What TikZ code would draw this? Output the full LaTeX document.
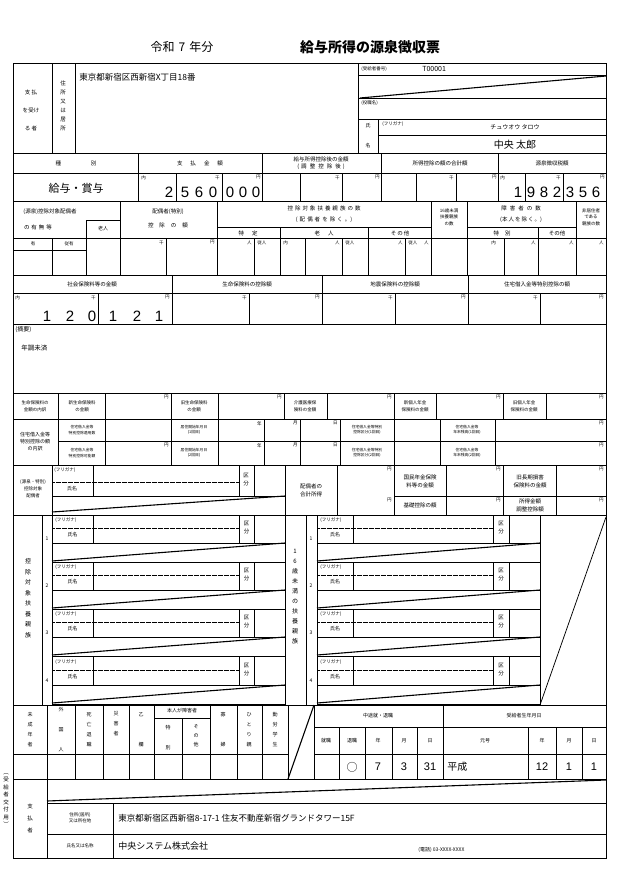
\documentclass[tikz,border=0pt]{standalone}
\usepackage{fontspec}
\setmainfont{Noto Sans CJK JP}
\newfontfamily\digits{Liberation Sans}
\begin{document}
\begin{tikzpicture}[x=1pt,y=-1pt,line width=0.75pt]
\newcommand\HL[3]{\draw ({#1},{#3}) -- ({#2},{#3});}
\newcommand\VL[3]{\draw ({#1},{#2}) -- ({#1},{#3});}
\newcommand\TX[5][]{\node[inner sep=0pt,font=\fontsize{#4}{#4}\selectfont,#1] at ({#2},{#3}) {#5};}
\newcommand\VT[6][]{\node[inner sep=0pt,align=center,font=\fontsize{#4}{#5}\selectfont,#1] at ({#2},{#3}) {#6};}
\newcommand\DG[4][13]{\node[inner sep=0pt,font=\digits\fontsize{#1}{#1}\selectfont] at ({#2},{#3}) {#4};}
\tikzset{dots/.style={line width=1pt,dash pattern=on 0.6pt off 0.6pt}}
\fill[white] (0,0) rectangle (619,870);
\useasboundingbox (0,0) rectangle (619,870);
% title
\TX{182}{47}{12}{令和\hspace{4pt}7\hspace{4pt}年分}
\TX{370}{47}{14}{\bfseries 給与所得の源泉徴収票}
% outer border
\draw (13,63) rectangle (606,858);
% ---------- top block
\VL{52}{63}{153}\VL{75}{63}{153}\VL{358}{63}{153}
\HL{358}{606}{75}\HL{358}{606}{98}\HL{358}{606}{119}\HL{378}{606}{135}
\draw[line width=1.1pt] (360,98) -- (606,76);
\VL{378}{119}{153}
\HL{13}{606}{153}
\VT{31}{110}{5.5}{18}{支 払\\を受け\\る 者}
\VT{63}{106}{5.5}{9}{住\\所\\又\\は\\居\\所}
\TX[anchor=north west]{79}{73}{8.5}{東京都新宿区西新宿X丁目18番}
\TX[anchor=west]{361}{69}{4.5}{(受給者番号)}
\TX[anchor=west]{422}{69}{7}{T00001}
\TX[anchor=west]{361}{103}{4.5}{(役職名)}
\TX{368}{126}{5}{氏}\TX{368}{146}{5}{名}
\TX[anchor=west]{382}{124}{4.5}{(フリガナ)}
\TX{515}{127}{6}{チュウオウ タロウ}
\TX{515}{145}{10}{中央 太郎}
% ---------- 種別 row
\VL{138}{153}{201}\VL{262}{153}{201}\VL{381}{153}{201}\VL{498}{153}{201}
\HL{13}{606}{173}\HL{13}{606}{201}
\VL{176}{173}{201}\VL{222}{173}{201}\VL{300}{173}{201}\VL{342}{173}{201}
\VL{416}{173}{201}\VL{456}{173}{201}\VL{525}{173}{201}\VL{563}{173}{201}
\TX{76}{163}{5.5}{種\hspace{30pt}別}
\TX{200}{163}{5.5}{支\hspace{8pt}払\hspace{8pt}金\hspace{8pt}額}
\VT{321}{163}{5.5}{6.5}{給与所得控除後の金額\\(\hspace{2pt}調\hspace{3pt}整\hspace{3pt}控\hspace{3pt}除\hspace{3pt}後\hspace{2pt})}
\TX{440}{163}{5.5}{所得控除の額の合計額}
\TX{552}{163}{5.5}{源泉徴収税額}
\TX{76}{188}{11}{給与・賞与}
\foreach \ex in {262,381,498,606}{
  \TX[anchor=north east]{\ex-1}{175}{4.5}{円}}
\TX[anchor=north west]{141}{175}{4.5}{内}
\TX[anchor=north west]{500}{175}{4.5}{内}
\foreach \x in {220,340,454,561}{\TX[anchor=north east]{\x}{175}{4.5}{千}}
\DG[15]{169}{192}{2}\DG[15]{185}{192}{5}\DG[15]{199}{192}{6}\DG[15]{213}{192}{0}
\DG[15]{230}{192}{0}\DG[15]{243}{192}{0}\DG[15]{256}{192}{0}
\DG[15]{518}{192}{1}\DG[15]{531}{192}{9}\DG[15]{544}{192}{8}\DG[15]{557}{192}{2}
\DG[15]{570}{192}{3}\DG[15]{583}{192}{5}\DG[15]{596}{192}{6}
% ---------- 配偶者 / 扶養 header
\VL{120}{201}{275}\VL{217}{201}{275}\VL{431}{201}{275}\VL{467}{201}{275}\VL{576}{201}{275}
\VL{86}{220}{275}\HL{86}{120}{220}
\HL{217}{431}{227}\HL{467}{576}{227}
\VL{280}{227}{275}\VL{368}{227}{275}\VL{538}{227}{275}
\HL{13}{606}{238}\HL{13}{86}{250}
\VL{52}{238}{275}\VL{166}{238}{275}\VL{254}{238}{275}\VL{305}{238}{275}\VL{342}{238}{275}
\VL{405}{238}{275}\VL{504}{238}{275}
\TX{50}{212}{5.5}{(源泉)控除対象配偶者}
\TX{38}{227}{5.5}{の\hspace{2pt}有\hspace{2pt}無\hspace{2pt}等}
\TX{103}{229}{5}{老人}
\TX{168}{212}{5.5}{配偶者(特別)}
\TX{168}{225}{5.5}{控\hspace{6pt}除\hspace{6pt}の\hspace{6pt}額}
\TX{324}{208}{5.5}{控\hspace{2pt}除\hspace{2pt}対\hspace{2pt}象\hspace{2pt}扶\hspace{2pt}養\hspace{2pt}親\hspace{2pt}族\hspace{2pt}の\hspace{2pt}数}
\TX{324}{220}{5.5}{(\hspace{2pt}配\hspace{2pt}偶\hspace{2pt}者\hspace{2pt}を\hspace{2pt}除\hspace{2pt}く\hspace{2pt}。)}
\TX{248}{233}{5.5}{特\hspace{8pt}定}
\TX{324}{233}{5.5}{老\hspace{8pt}人}
\TX{400}{233}{5.5}{そ\hspace{1pt}の\hspace{1pt}他}
\VT{449}{217}{4.5}{6.5}{16歳未満\\扶養親族\\の数}
\TX{521}{208}{5.5}{障\hspace{3pt}害\hspace{3pt}者\hspace{3pt}の\hspace{3pt}数}
\TX{521}{220}{5.5}{(本\hspace{1pt}人\hspace{1pt}を\hspace{1pt}除\hspace{1pt}く\hspace{1pt}。)}
\TX{502}{233}{5.5}{特\hspace{6pt}別}
\TX{557}{233}{5.5}{その他}
\VT{591}{217}{4.5}{6.5}{非居住者\\である\\親族の数}
\TX{33}{244}{4.5}{有}\TX{69}{244}{4.5}{従有}
\TX[anchor=north east]{164}{240}{4.5}{千}\TX[anchor=north east]{215}{240}{4.5}{円}
\foreach \x in {252,340,403,429,536,574,604}{\TX[anchor=north east]{\x}{240}{4.5}{人}}
\foreach \x in {257,345,408}{\TX[anchor=north west]{\x}{240}{4.5}{従人}}
\TX[anchor=north west]{283}{240}{4.5}{内}\TX[anchor=north west]{491}{240}{4.5}{内}
% ---------- 社会保険 row
\HL{13}{606}{275}\HL{13}{606}{293}\HL{13}{606}{324}
\VL{172}{275}{324}\VL{322}{275}{324}\VL{468}{275}{324}
\VL{98}{293}{324}\VL{249}{293}{324}\VL{395}{293}{324}\VL{540}{293}{324}
\TX{92}{284}{5.5}{社会保険料等の金額}
\TX{247}{284}{5.5}{生命保険料の控除額}
\TX{395}{284}{5.5}{地震保険料の控除額}
\TX{537}{284}{5.5}{住宅借入金等特別控除の額}
\TX[anchor=north west]{15}{295}{4.5}{内}
\foreach \x in {96,247,393,538}{\TX[anchor=north east]{\x}{295}{4.5}{千}}
\foreach \x in {170,320,466,604}{\TX[anchor=north east]{\x}{295}{4.5}{円}}
\DG[15]{47}{316}{1}\DG[15]{70}{316}{2}\DG[15]{92}{316}{0}
\DG[15]{113}{316}{1}\DG[15]{137}{316}{2}\DG[15]{159}{316}{1}
% ---------- 摘要
\TX[anchor=north west]{15}{326}{6}{(摘要)}
\TX[anchor=north west]{21}{345}{6.5}{年調未済}
% ---------- 生命保険料内訳
\HL{13}{606}{393}\HL{13}{606}{419}
\foreach \x in {58,105,171,218,284,327,394,436,503,546}{\VL{\x}{393}{419}}
\VT{35}{406}{4.5}{7}{生命保険料の\\金額の内訳}
\VT{82}{406}{4.5}{7}{新生命保険料\\の金額}
\VT{194}{406}{4.5}{7}{旧生命保険料\\の金額}
\VT{305}{406}{4.5}{7}{介護医療保\\険料の金額}
\VT{415}{406}{4.5}{7}{新個人年金\\保険料の金額}
\VT{524}{406}{4.5}{7}{旧個人年金\\保険料の金額}
\foreach \x in {169,282,392,501,604}{\TX[anchor=north east]{\x}{395}{4.5}{円}}
% ---------- 住宅借入
\HL{58}{606}{441}\HL{13}{606}{465}
\VL{58}{419}{465}
\foreach \x in {105,171,218,264,300,340,394,440,495}{\VL{\x}{419}{465}}
\VT{35}{442}{5}{7}{住宅借入金等\\特別控除の額\\の内訳}
\VT{82}{430}{3.8}{5.5}{住宅借入金等\\特別控除適用数}
\VT{82}{453}{3.8}{5.5}{住宅借入金等\\特別控除可能額}
\VT{194}{430}{3.8}{5.5}{居住開始年月日\\(1回目)}
\VT{194}{453}{3.8}{5.5}{居住開始年月日\\(2回目)}
\VT{367}{430}{3.8}{5.5}{住宅借入金等特別\\控除区分(1回目)}
\VT{367}{453}{3.8}{5.5}{住宅借入金等特別\\控除区分(2回目)}
\VT{467}{430}{3.8}{5.5}{住宅借入金等\\年末残高(1回目)}
\VT{467}{453}{3.8}{5.5}{住宅借入金等\\年末残高(2回目)}
\foreach \y in {421,443}{
  \TX[anchor=north east]{262}{\y}{4.5}{年}\TX[anchor=north east]{298}{\y}{4.5}{月}
  \TX[anchor=north east]{338}{\y}{4.5}{日}\TX[anchor=north east]{604}{\y}{4.5}{円}}
\TX[anchor=north east]{169}{443}{4.5}{円}
% ---------- 配偶者
\VL{52}{465}{515}\VL{93}{465}{496}\VL{239}{465}{496}\VL{254}{465}{496}
\VL{285}{465}{515}\VL{337}{465}{515}\VL{394}{465}{515}\VL{446}{465}{515}
\VL{503}{465}{515}\VL{556}{465}{515}
\HL{52}{285}{496}\HL{394}{606}{496}
\draw[dots] (52,482) -- (239,482);
\draw[line width=1.1pt] (52,512) -- (285,496);
\HL{13}{606}{515}
\VT{33}{489}{4.5}{7}{(源泉・特別)\\控除対象\\配偶者}
\TX[anchor=west]{54}{470}{4.5}{(フリガナ)}
\TX{72}{489}{5}{氏名}
\VT{246}{480}{5.5}{8}{区\\分}
\VT{311}{490}{5.5}{8}{配偶者の\\合計所得}
\VT{420}{481}{5.5}{8}{国民年金保険\\料等の金額}
\TX{420}{505}{5.5}{基礎控除の額}
\VT{530}{481}{5.5}{8}{旧長期損害\\保険料の金額}
\VT{530}{505}{5.5}{8}{所得金額\\調整控除額}
\foreach \x in {392,501,604}{\TX[anchor=north east]{\x}{467}{4.5}{円}\TX[anchor=north east]{\x}{498}{4.5}{円}}
% ---------- dependents
\VL{42}{515}{705}\VL{52}{515}{705}\VL{285}{515}{705}\VL{306}{515}{705}\VL{317}{515}{705}\VL{540}{515}{705}
\foreach \t/\n in {515/1,562/2,609/3,657/4}{
  \foreach \a/\b/\c/\d/\e in {52/93/239/254/285,317/353/493/509/540}{
    \VL{\b}{\t}{\t+28}\VL{\c}{\t}{\t+28}\VL{\d}{\t}{\t+28}
    \HL{\a}{\e}{\t+28}\HL{\a}{\e}{\t+47}
    \draw[dots] ({\a},{\t+13}) -- ({\c},{\t+13});
    \draw[line width=1.1pt] ({\a},{\t+46}) -- ({\e},{\t+28});
    \TX[anchor=west]{\a+3}{\t+5}{4.5}{(フリガナ)}
    \TX{(\a+\b)/2}{\t+20}{5}{氏名}
    \VT{(\c+\d)/2}{\t+13}{5.5}{8}{区\\分}
  }
  \TX{47}{\t+24}{5}{\n}\TX{311}{\t+24}{5}{\n}
}
\VT{28}{598}{6}{10.5}{控\\除\\対\\象\\扶\\養\\親\\族}
\VT{295}{597}{6}{10}{1\\6\\歳\\未\\満\\の\\扶\\養\\親\\族}
\draw (606,517) -- (540,705);
% ---------- bottom flags
\HL{13}{606}{705}
\foreach \x in {47,75,103,129,154,210,237,262,288}{\VL{\x}{705}{779}}
\HL{154}{210}{718}\VL{182}{718}{779}
\HL{13}{288}{754}
\draw[line width=1.1pt] (288,779) -- (314,705);
\VL{314}{705}{779}\VL{443}{705}{779}
\HL{314}{606}{727}\HL{314}{606}{754}
\foreach \x in {339,365,392,417,528,556,582}{\VL{\x}{727}{779}}
\HL{13}{606}{779}
\VT{30}{730}{5}{10}{未\\成\\年\\者}
\VT{61}{730}{5}{10}{外\\\\国\\\\人}
\VT{89}{730}{5}{10}{死\\亡\\退\\職}
\VT{116}{724}{5}{10}{災\\害\\者}
\VT{141}{730}{5}{10}{乙\\\\\\欄}
\TX{182}{711}{5}{本人が障害者}
\VT{168}{738}{5}{10}{特\\\\別}
\VT{196}{736}{5}{9}{そ\\の\\他}
\VT{223}{730}{5}{10}{寡\\\\\\婦}
\VT{249}{730}{5}{10}{ひ\\と\\り\\親}
\VT{275}{730}{5}{10}{勤\\労\\学\\生}
\TX{378}{716}{5}{中途就・退職}
\TX{524}{716}{5}{受給者生年月日}
\foreach \x/\s in {326/就職,352/退職,378/年,404/月,430/日,485/元号,542/年,569/月,594/日}{\TX{\x}{741}{5}{\s}}
\TX{352}{767}{11}{○}
\DG[11]{378}{767}{7}\DG[11]{404}{767}{3}\DG[11]{430}{767}{31}
\TX[anchor=west]{447}{767}{10}{平成}
\DG[11]{542}{767}{12}\DG[11]{569}{767}{1}\DG[11]{594}{767}{1}
% ---------- payer
\VL{47}{779}{858}\VL{113}{803}{858}
\HL{47}{606}{803}\HL{47}{606}{834}
\draw[line width=1.1pt] (47,801) -- (606,780);
\VT{30}{818}{5.5}{12}{支\\払\\者}
\VT{6}{800}{5.5}{7.5}{︵\\受\\給\\者\\交\\付\\用\\︶}
\VT{80}{818}{4.5}{6.5}{住所(居所)\\又は所在地}
\TX{80}{846}{4.5}{氏名又は名称}
\TX[anchor=west]{118}{818}{8.5}{東京都新宿区西新宿8-17-1 住友不動産新宿グランドタワー15F}
\TX[anchor=west]{118}{846}{9}{中央システム株式会社}
\TX[anchor=west]{418}{850}{5}{(電話) 03-XXXX-XXXX}
\end{tikzpicture}
\end{document}
